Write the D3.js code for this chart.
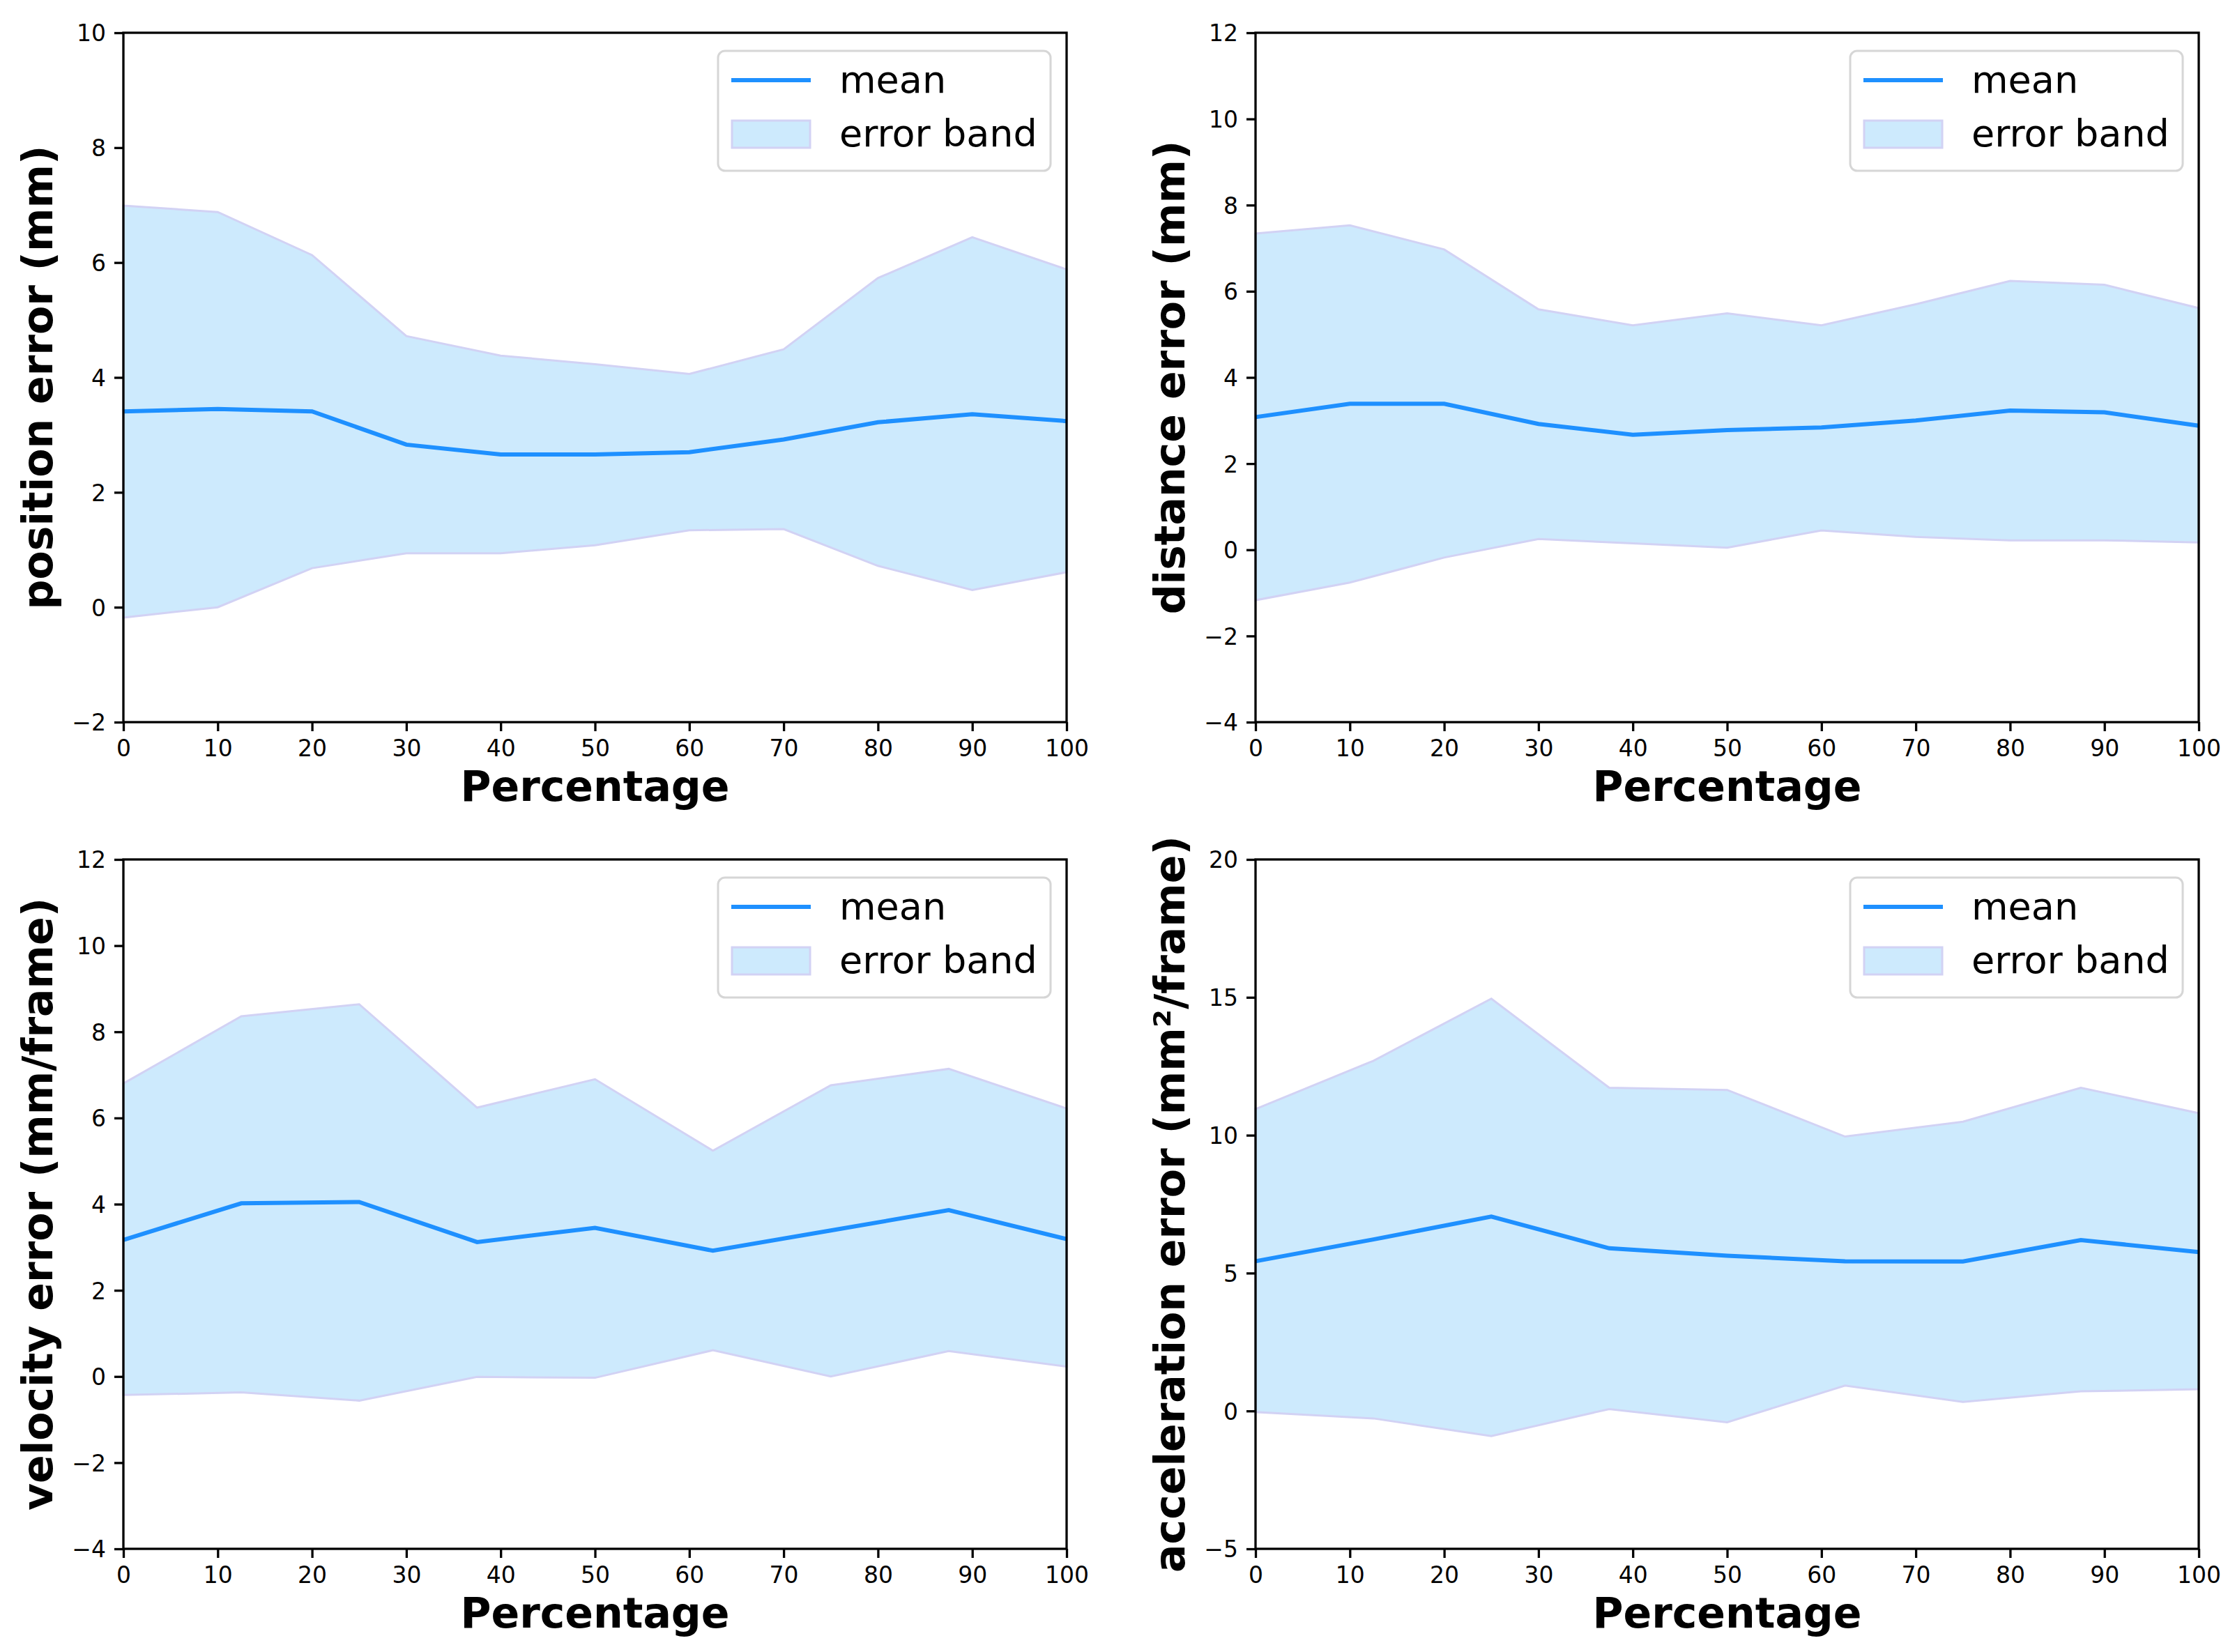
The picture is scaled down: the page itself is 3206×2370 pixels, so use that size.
<!DOCTYPE html>
<html>
<head>
<meta charset="utf-8">
<script src="https://cdn.jsdelivr.net/npm/d3@7"></script>
<style>
  body { margin: 0; background: #fff; }
  text { font-family: "DejaVu Sans", sans-serif; }
</style>
</head>
<body>
<svg id="chart"></svg>
<script>
// x positions (percentage)
const pctTen = [0, 10, 20, 30, 40, 50, 60, 70, 80, 90, 100];
const pctEighth = [0, 12.5, 25, 37.5, 50, 62.5, 75, 87.5, 100];
const xTicks = [0, 10, 20, 30, 40, 50, 60, 70, 80, 90, 100];

// position error (mm)
const posMean  = [3.41, 3.45, 3.41, 2.83, 2.66, 2.66, 2.70, 2.92, 3.22, 3.36, 3.24];
const posUpper = [6.99, 6.88, 6.13, 4.72, 4.38, 4.23, 4.06, 4.49, 5.73, 6.44, 5.88];
const posLower = [-0.18, 0.00, 0.68, 0.94, 0.94, 1.08, 1.34, 1.36, 0.72, 0.30, 0.61];

// distance error (mm)
const distMean  = [3.08, 3.39, 3.39, 2.92, 2.67, 2.78, 2.84, 3.00, 3.23, 3.19, 2.88];
const distUpper = [7.34, 7.53, 6.97, 5.58, 5.21, 5.49, 5.21, 5.70, 6.24, 6.15, 5.61];
const distLower = [-1.17, -0.76, -0.18, 0.25, 0.15, 0.05, 0.45, 0.30, 0.22, 0.22, 0.17];

// velocity error (mm/frame)
const velMean  = [3.17, 4.02, 4.05, 3.12, 3.45, 2.92, 3.39, 3.86, 3.19];
const velUpper = [6.80, 8.36, 8.64, 6.24, 6.90, 5.24, 6.76, 7.14, 6.22];
const velLower = [-0.43, -0.37, -0.56, -0.01, -0.03, 0.61, 0.00, 0.59, 0.23];

// acceleration error (mm²/frame)
const accMean  = [5.43, 6.22, 7.05, 5.90, 5.63, 5.43, 5.42, 6.20, 5.76];
const accUpper = [10.95, 12.70, 14.95, 11.72, 11.64, 9.95, 10.49, 11.72, 10.80];
const accLower = [-0.04, -0.27, -0.91, 0.07, -0.41, 0.92, 0.33, 0.71, 0.79];

const posTicks  = [-2, 0, 2, 4, 6, 8, 10];
const distTicks = [-4, -2, 0, 2, 4, 6, 8, 10, 12];
const velTicks  = [-4, -2, 0, 2, 4, 6, 8, 10, 12];
const accTicks  = [-5, 0, 5, 10, 15, 20];

const panels = [
  { x: pctTen, mean: posMean, upper: posUpper, lower: posLower, ticks: posTicks,
    label: "position error (mm)", left: 177, top: 47 },
  { x: pctTen, mean: distMean, upper: distUpper, lower: distLower, ticks: distTicks,
    label: "distance error (mm)", left: 1801, top: 47 },
  { x: pctEighth, mean: velMean, upper: velUpper, lower: velLower, ticks: velTicks,
    label: "velocity error (mm/frame)", left: 177, top: 1233 },
  { x: pctEighth, mean: accMean, upper: accUpper, lower: accLower, ticks: accTicks,
    label: "acceleration error (mm²/frame)", left: 1801, top: 1233 }
];

const W = 3206, H = 2370;
const pw = 1353, ph = 989;
const lineBlue = "#1e90ff";
const bandFill = "#cdeafd";
const bandEdge = "#d2d2f4";

const svg = d3.select("#chart").attr("width", W).attr("height", H);

panels.forEach(p => {
  const g = svg.append("g").attr("transform", `translate(${p.left},${p.top})`);

  const x = d3.scaleLinear().domain([0, 100]).range([0, pw]);
  const y = d3.scaleLinear().domain(d3.extent(p.ticks)).range([ph, 0]);

  const rows = p.x.map((v, i) => ({ x: v, m: p.mean[i], hi: p.upper[i], lo: p.lower[i] }));

  // error band
  g.append("path")
    .datum(rows)
    .attr("d", d3.area().x(d => x(d.x)).y0(d => y(d.lo)).y1(d => y(d.hi)))
    .attr("fill", bandFill)
    .attr("stroke", bandEdge)
    .attr("stroke-width", 3);

  // mean line
  g.append("path")
    .datum(rows)
    .attr("d", d3.line().x(d => x(d.x)).y(d => y(d.m)))
    .attr("fill", "none")
    .attr("stroke", lineBlue)
    .attr("stroke-width", 6);

  // axes
  const xAxis = g.append("g")
    .attr("transform", `translate(0,${ph})`)
    .call(d3.axisBottom(x).tickValues(xTicks).tickSize(13).tickPadding(12).tickSizeOuter(0));
  const yAxis = g.append("g")
    .call(d3.axisLeft(y).tickValues(p.ticks).tickSize(13).tickPadding(12).tickSizeOuter(0));

  [xAxis, yAxis].forEach(a => {
    a.select(".domain").remove();
    a.selectAll(".tick line").attr("stroke", "#000").attr("stroke-width", 3.3);
    a.selectAll(".tick text")
      .attr("fill", "#000")
      .style("font-family", "DejaVu Sans")
      .style("font-size", "33px");
  });
  xAxis.selectAll(".tick text").attr("dy", "0.72em");
  yAxis.selectAll(".tick text").attr("dy", "0.36em");

  // frame
  g.append("rect")
    .attr("width", pw).attr("height", ph)
    .attr("fill", "none").attr("stroke", "#000").attr("stroke-width", 3.3);

  // axis labels
  g.append("text")
    .attr("x", pw / 2).attr("y", ph + 113)
    .attr("text-anchor", "middle")
    .style("font-size", "60px").style("font-weight", "bold")
    .text("Percentage");

  g.append("text")
    .attr("transform", `translate(-102,${ph / 2}) rotate(-90)`)
    .attr("text-anchor", "middle")
    .style("font-size", "60px").style("font-weight", "bold")
    .text(p.label);

  // legend
  const lg = g.append("g").attr("transform", `translate(${pw - 500},26)`);
  lg.append("rect")
    .attr("width", 477).attr("height", 172).attr("rx", 10)
    .attr("fill", "#fff").attr("stroke", "#d6d6d6").attr("stroke-width", 3);
  lg.append("line")
    .attr("x1", 19).attr("x2", 133).attr("y1", 42).attr("y2", 42)
    .attr("stroke", lineBlue).attr("stroke-width", 6);
  lg.append("rect")
    .attr("x", 20).attr("y", 100).attr("width", 112).attr("height", 39)
    .attr("fill", bandFill).attr("stroke", bandEdge).attr("stroke-width", 3);
  lg.append("text").attr("x", 174).attr("y", 60)
    .style("font-size", "54px").text("mean");
  lg.append("text").attr("x", 174).attr("y", 137)
    .style("font-size", "54px").text("error band");
});
</script>
</body>
</html>
